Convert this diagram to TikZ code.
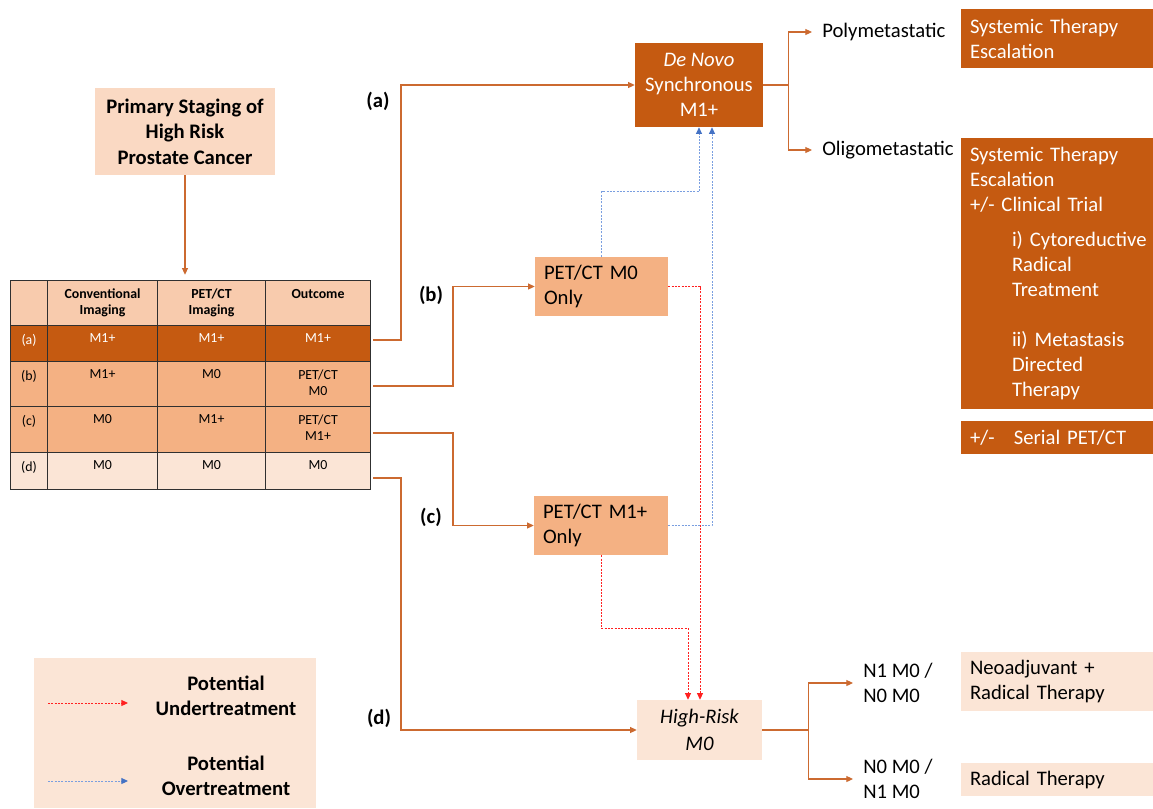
\documentclass[tikz,border=0pt]{standalone}
\usepackage{fontspec}
\setmainfont{Carlito}
\usetikzlibrary{arrows.meta,calc,fit}
\definecolor{dorange}{HTML}{C55A11}
\definecolor{morange}{HTML}{F4B183}
\definecolor{horange}{HTML}{F8CBAD}
\definecolor{lorange}{HTML}{FBE5D6}
\definecolor{torange}{HTML}{FAD9C3}
\definecolor{lineor}{HTML}{CC6A30}
\definecolor{ured}{HTML}{FF2020}
\definecolor{oblue}{HTML}{7A9FE0}
\definecolor{ablue}{HTML}{4472C4}
\definecolor{tborder}{HTML}{303030}
\newcommand\mkcell[8]{%
  \node[cell, fill=#6, minimum width=#4*0.75pt, minimum height=#5*0.75pt, anchor=north west] (#1) at (#2,#3) {};
  \node[celltxt, text=#7, anchor=north] at ([yshift=-5.5pt]#1.north) {#8};
}
\tikzset{
  mainf/.style={font=\fontsize{15.5}{18.75}\selectfont},
  box/.style={mainf, inner sep=0pt, draw=none},
  cell/.style={draw=tborder, line width=0.8pt, inner sep=0pt},
  celltxt/.style={font=\fontsize{10.4}{12.2}\selectfont, align=center, inner sep=1pt},
  conn/.style={draw=lineor, line width=0.8pt, -{Triangle[length=5pt,width=4.5pt]}},
  plainline/.style={draw=lineor, line width=0.8pt},
  under/.style={draw=ured, line width=0.7pt, dash pattern=on 1.5pt off 1pt, -{Triangle[length=5pt,width=4.5pt]}},
  over/.style={draw=oblue, line width=0.7pt, dash pattern=on 1.5pt off 1pt, -{Triangle[length=5pt,width=4.5pt,color=ablue]}},
  lab/.style={font=\fontsize{15.5}{18.75}\selectfont\bfseries, inner sep=0pt},
  plaintxt/.style={mainf, inner sep=0pt, align=left},
}
\begin{document}
\begin{tikzpicture}[x=0.75pt,y=-0.75pt]
\useasboundingbox (0,0) rectangle (1153,808);
\fill[white] (0,0) rectangle (1153,808);

% title
\node[box, fill=torange, minimum width=135pt, minimum height=65.25pt, align=center, font=\fontsize{15.5}{19.1}\selectfont\bfseries] (title) at (185,131.5) {Primary Staging of\\High Risk\\Prostate Cancer};

% table
\mkcell{h0}{10}{280}{37}{45}{horange}{black}{}
\mkcell{h1}{47}{280}{110}{45}{horange}{black}{\bfseries Conventional\\\bfseries Imaging}
\mkcell{h2}{157}{280}{108}{45}{horange}{black}{\bfseries PET/CT\\\bfseries Imaging}
\mkcell{h3}{265}{280}{105}{45}{horange}{black}{\bfseries Outcome}
\mkcell{a0}{10}{325}{37}{36}{dorange}{white}{(a)}
\mkcell{a1}{47}{325}{110}{36}{dorange}{white}{M1+}
\mkcell{a2}{157}{325}{108}{36}{dorange}{white}{M1+}
\mkcell{a3}{265}{325}{105}{36}{dorange}{white}{M1+}
\mkcell{b0}{10}{361}{37}{45}{morange}{black}{(b)}
\mkcell{b1}{47}{361}{110}{45}{morange}{black}{M1+}
\mkcell{b2}{157}{361}{108}{45}{morange}{black}{M0}
\mkcell{b3}{265}{361}{105}{45}{morange}{black}{PET/CT\\M0}
\mkcell{c0}{10}{406}{37}{46}{morange}{black}{(c)}
\mkcell{c1}{47}{406}{110}{46}{morange}{black}{M0}
\mkcell{c2}{157}{406}{108}{46}{morange}{black}{M1+}
\mkcell{c3}{265}{406}{105}{46}{morange}{black}{PET/CT\\M1+}
\mkcell{d0}{10}{452}{37}{37}{lorange}{black}{(d)}
\mkcell{d1}{47}{452}{110}{37}{lorange}{black}{M0}
\mkcell{d2}{157}{452}{108}{37}{lorange}{black}{M0}
\mkcell{d3}{265}{452}{105}{37}{lorange}{black}{M0}
\node[fit=(h0)(d3), inner sep=0pt] (table) {};

\draw[conn, shorten >=3.75pt] (title.south) -- (title.south |- table.north);

% middle boxes
\node[box, fill=dorange, text=white, minimum width=96pt, minimum height=63pt, align=center] (denovo) at (699,85) {\itshape De Novo\\Synchronous\\M1+};
\node[box, fill=morange, minimum width=99.75pt, minimum height=44.25pt, text width=86.25pt, inner xsep=6.75pt, align=left] (m0) at (601.5,286.5) {PET/CT M0\\Only};
\node[box, fill=morange, minimum width=100.5pt, minimum height=44.25pt, text width=87pt, inner xsep=6.75pt, align=left] (m1) at (601,525.5) {PET/CT M1+\\Only};
\node[box, fill=lorange, minimum width=93.75pt, minimum height=45pt, align=center, font=\fontsize{15.5}{20}\selectfont\itshape] (hr) at (699.5,730) {High-Risk\\M0};

% labels
\node[lab] (la) at (378,101) {(a)};
\node[lab] (lb) at (431,295) {(b)};
\node[lab] (lc) at (431,517) {(c)};
\node[lab] (ld) at (379,718) {(d)};

% table connectors
\coordinate (ta) at (373,340);
\coordinate (tb) at (373,386);
\coordinate (tc) at (373,433);
\coordinate (td) at (373,478);
\draw[conn] (ta) -- ++(28,0) |- (denovo.west);
\draw[conn] (tb) -- ++(80,0) |- (m0.west);
\draw[conn] (tc) -- ++(80,0) |- (m1.west);
\draw[conn] (td) -- ++(28,0) |- (hr.west);

% right side top
\node[plaintxt, anchor=west, inner xsep=7.5pt] (poly) at (812,32) {Polymetastatic};
\node[plaintxt, anchor=west, inner xsep=7.5pt] (oligo) at (812,150) {Oligometastatic};
\draw[plainline] (denovo.east) -- ++(25,0) coordinate (jt);
\draw[conn] (jt) |- (poly.west);
\draw[conn] (jt) |- (oligo.west);

\node[box, fill=dorange, text=white, minimum width=144pt, minimum height=44.25pt, text width=130.5pt, inner xsep=6.75pt, align=left] (sys1) at (1057,38.5) {Systemic Therapy\\Escalation};
\node[box, fill=dorange, text=white, minimum width=144pt, minimum height=203.25pt, text width=130.5pt, inner xsep=6.75pt, align=left] (olibox) at (1057,273.5) {Systemic Therapy\\Escalation\\+/- Clinical Trial\\[7.5pt]\hspace*{31.5pt}\mbox{i) Cytoreductive}\\\hspace*{31.5pt}Radical\\\hspace*{31.5pt}Treatment\\[18.75pt]\hspace*{31.5pt}\mbox{ii) Metastasis}\\\hspace*{31.5pt}Directed\\\hspace*{31.5pt}Therapy};
\node[box, fill=dorange, text=white, minimum width=144pt, minimum height=24.75pt, text width=130.5pt, inner xsep=6.75pt, align=left] (serial) at (1057,437.5) {+/-\hspace*{14.5pt}Serial PET/CT};

% right side bottom
\node[plaintxt, anchor=west, inner xsep=7.5pt] (n1) at (853,683) {N1 M0 /\\N0 M0};
\node[plaintxt, anchor=west, inner xsep=7.5pt] (n0) at (853,779) {N0 M0 /\\N1 M0};
\draw[plainline] (hr.east) -- ++(46,0) coordinate (jb);
\draw[conn] (jb) |- (n1.west);
\draw[conn] (jb) |- (n0.west);
\node[box, fill=lorange, minimum width=144pt, minimum height=44.25pt, text width=130.5pt, inner xsep=6.75pt, align=left] (neo) at (1057,681.5) {Neoadjuvant +\\Radical Therapy};
\node[box, fill=lorange, minimum width=144pt, minimum height=24.75pt, text width=130.5pt, inner xsep=6.75pt, align=left] (rad) at (1057,779.5) {Radical Therapy};

% dotted connectors
\draw[over] (m0.north) -- ++(0,-65) -| (denovo.south);
\draw[over] (m1.east) -| ($(denovo.south)+(13,0)$);
\draw[under] (m0.east) -| ($(hr.north)+(0.5,0)$);
\draw[under] (m1.south) -- ++(0,73) -| ($(hr.north)+(-11.5,0)$);

% legend
\node[box, fill=lorange, minimum width=211.5pt, minimum height=112.5pt] (legend) at (175,733) {};
\coordinate (u1) at (48,703);
\coordinate (u2) at (128,703);
\coordinate (o1) at (48,781);
\coordinate (o2) at (128,781);
\draw[under] (u1) -- (u2);
\draw[over] (o1) -- (o2);
\node[lab, align=center] (lu) at (226,696) {Potential\\Undertreatment};
\node[lab, align=center] (lo) at (226,776) {Potential\\Overtreatment};
\end{tikzpicture}
\end{document}
